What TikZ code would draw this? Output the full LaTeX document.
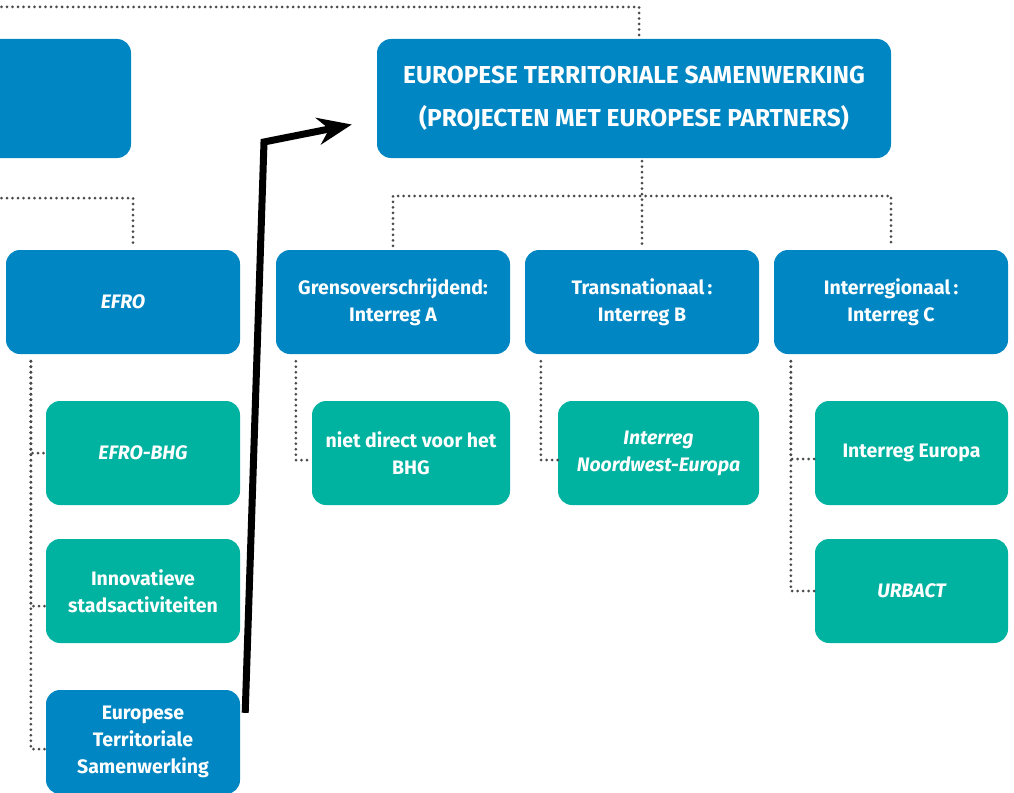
\documentclass[tikz,border=0pt]{standalone}
\usepackage{fontspec}
\setmainfont{Fira Sans}
\usepackage{xcolor}
\usepackage{tikz}
\usetikzlibrary{calc, arrows.meta}

\definecolor{etsBlue}{HTML}{0086C3}
\definecolor{etsTeal}{HTML}{00B2A0}
\definecolor{dotGrey}{HTML}{4A4A4A}

\tikzset{
	blueBox/.style={fill=etsBlue, text=white, rounded corners=14pt, inner sep=0pt, align=center, font=\fontsize{19.5}{27}\selectfont\bfseries},
	tealBox/.style={blueBox, fill=etsTeal},
	dotLine/.style={draw=dotGrey, line width=3pt, line cap=round, dash pattern=on 0pt off 5.5pt},
	bigArrow/.style={line width=7pt, miter limit=10, -{Stealth[length=34pt, width=27pt, inset=11pt]}}
}

\begin{document}
\begin{tikzpicture}[x=1pt, y=-1pt]
			\useasboundingbox (0,0) rectangle (1014,792);

			\newcommand{\drawHook}[3]
			{
				\draw [dotLine] (#1) |- ($ (#2.west) + (0,#3) $)
			}

			% top level
			\begin{scope}
				\node [blueBox, minimum width=151pt, minimum height=119pt] (efroTop) at (55.5,98.5) {};
				\node [blueBox, minimum width=514pt, minimum height=119pt, font=\fontsize{24.5}{43}\selectfont\bfseries] (ets) at (634,98.5) {EUROPESE TERRITORIALE SAMENWERKING\\(PROJECTEN MET EUROPESE PARTNERS)};
			\end{scope}

			% second level
			\begin{scope}[every node/.style={blueBox, minimum width=234pt, minimum height=104pt}]
				\node (efro) at (123,302) {\itshape EFRO};
				\node (grens) at (393,302) {Grensoverschrijdend:\\Interreg A};
				\node (trans) at (642,302) {Transnationaal\,:\\Interreg B};
				\node (inter) at (891,302) {Interregionaal\,:\\Interreg C};
			\end{scope}

			% third level
			\begin{scope}[every node/.style={tealBox, minimum height=104pt}]
				\node [minimum width=194pt] (efroBhg) at (143,453) {\itshape EFRO-BHG};
				\node [minimum width=194pt] (innov) at (143,591) {Innovatieve\\stadsactiviteiten};
				\node [minimum width=194pt, fill=etsBlue] (etsSub) at (143,742) {Europese\\Territoriale\\Samenwerking};
				\node [minimum width=198pt] (grensSub) at (411,453) {niet direct voor het\\BHG};
				\node [minimum width=201pt] (transSub) at (658.5,453) {\itshape Interreg\\\itshape Noordwest-Europa};
				\node [minimum width=193pt] (interEuropa) at (911.5,453) {Interreg Europa};
				\node [minimum width=193pt] (urbact) at (911.5,591) {\itshape URBACT};
			\end{scope}

			% dotted connectors
			\coordinate (topLeft) at (-4,7);
			\coordinate (efroLeft) at (-4,198);
			\coordinate (bus) at (642,196);
			\draw [dotLine] (topLeft) -| ($ (ets.north -| trans.north) + (-3,0) $);
			\draw [dotLine] (efroLeft) -| ($ (efro.north) + (10,-3) $);
			\draw [dotLine] ($ (ets.south -| trans.north) + (0,3) $) -- ($ (trans.north) + (0,-4) $);
			\draw [dotLine] ($ (grens.north) + (0,-4) $) |- (bus) -| ($ (inter.north) + (0,-4) $);

			\coordinate (efroTrunk) at ($ (efro.south west) + (25,7) $);
			\coordinate (grensTrunk) at ($ (grens.south west) + (20,7) $);
			\coordinate (transTrunk) at ($ (trans.south west) + (16,7) $);
			\coordinate (interTrunk) at ($ (inter.south west) + (17,7) $);
			\drawHook{efroTrunk}{efroBhg}{0};
			\drawHook{efroTrunk}{innov}{15};
			\drawHook{efroTrunk}{etsSub}{7};
			\drawHook{grensTrunk}{grensSub}{7};
			\drawHook{transTrunk}{transSub}{7};
			\drawHook{interTrunk}{interEuropa}{6};
			\drawHook{interTrunk}{urbact}{0};

			% arrow back to the top box
			\coordinate (arrowStart) at ($ (etsSub.north east) + (5,23) $);
			\coordinate (arrowBend) at (264,142);
			\coordinate (arrowTip) at ($ (ets.west) + (-25,26) $);
			\draw [bigArrow] (arrowStart) -- (arrowBend) -- (arrowTip);
		\end{tikzpicture}
\end{document}
